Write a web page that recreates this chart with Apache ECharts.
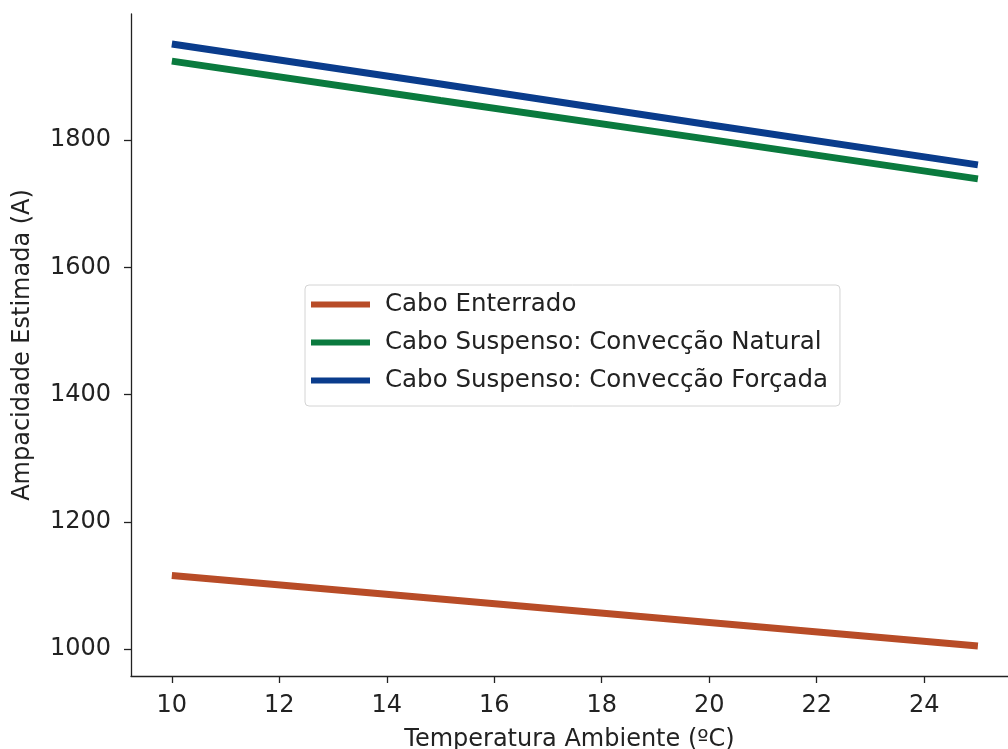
<!DOCTYPE html>
<html>
<head>
<meta charset="utf-8">
<script src="https://cdn.jsdelivr.net/npm/echarts@6/dist/echarts.min.js"></script>
<style>
  html, body { margin: 0; padding: 0; background: #fff; }
  #chart { width: 1008px; height: 749px; }
</style>
</head>
<body>
<div id="chart"></div>
<script>
// valores
var temperaturas = [10, 15, 20, 25];
var caboEnterrado = [1116, 1079, 1042, 1005];
var convNatural = [1924, 1862, 1801, 1739];
var convForcada = [1951, 1888, 1824, 1761];
var xTicks = [10, 12, 14, 16, 18, 20, 22, 24];
var yTicks = [1000, 1200, 1400, 1600, 1800];

var nomes = ['Cabo Enterrado', 'Cabo Suspenso: Convecção Natural', 'Cabo Suspenso: Convecção Forçada'];
var cores = ['#b84c27', '#0a7a3e', '#0a3c8c'];

function pares(ys) {
    return temperaturas.map(function (t, i) { return [t, ys[i]]; });
}

var fonte = 'DejaVu Sans';
var tam = 24;
var eixo = { color: '#222', width: 1.3 };

var myChart = echarts.init(document.getElementById('chart'));
var option = {
    animation: false,
    grid: { left: 131, right: 0, top: 14, bottom: 73, containLabel: false, outerBoundsMode: 'none' },
    legend: {
        orient: 'vertical',
        left: 305,
        top: 285,
        data: nomes,
        icon: 'rect',
        itemWidth: 59,
        itemHeight: 6,
        itemGap: 13,
        padding: [7, 12, 13, 6],
        backgroundColor: '#fff',
        borderColor: '#d4d4d4',
        borderWidth: 1,
        borderRadius: 4,
        textStyle: { fontFamily: fonte, fontSize: 24.5, color: '#222', padding: [0, 0, 0, 10] }
    },
    xAxis: {
        type: 'value',
        min: 9.24,
        max: 25.56,
        name: 'Temperatura Ambiente (ºC)',
        nameLocation: 'middle',
        nameGap: 52,
        nameTextStyle: { fontFamily: fonte, fontSize: tam, color: '#222' },
        axisLine: { lineStyle: eixo },
        axisTick: { show: true, length: 7, lineStyle: eixo, customValues: xTicks },
        axisLabel: { fontFamily: fonte, fontSize: tam, color: '#222', margin: 18, customValues: xTicks },
        splitLine: { show: false }
    },
    yAxis: {
        type: 'value',
        min: 958,
        max: 1998,
        name: 'Ampacidade Estimada (A)',
        nameLocation: 'middle',
        nameGap: 96,
        nameTextStyle: { fontFamily: fonte, fontSize: tam, color: '#222' },
        axisLine: { show: true, lineStyle: eixo },
        axisTick: { show: true, length: 7, lineStyle: eixo, customValues: yTicks },
        axisLabel: { fontFamily: fonte, fontSize: tam, color: '#222', margin: 20, customValues: yTicks,
                     formatter: function (v) { return String(v); } },
        splitLine: { show: false }
    },
    series: [
        { name: nomes[0], type: 'line', data: pares(caboEnterrado), showSymbol: false, symbol: 'none',
          lineStyle: { width: 7, color: cores[0] }, itemStyle: { color: cores[0] } },
        { name: nomes[1], type: 'line', data: pares(convNatural), showSymbol: false, symbol: 'none',
          lineStyle: { width: 7, color: cores[1] }, itemStyle: { color: cores[1] } },
        { name: nomes[2], type: 'line', data: pares(convForcada), showSymbol: false, symbol: 'none',
          lineStyle: { width: 7, color: cores[2] }, itemStyle: { color: cores[2] } }
    ]
};
myChart.setOption(option);
</script>
</body>
</html>
